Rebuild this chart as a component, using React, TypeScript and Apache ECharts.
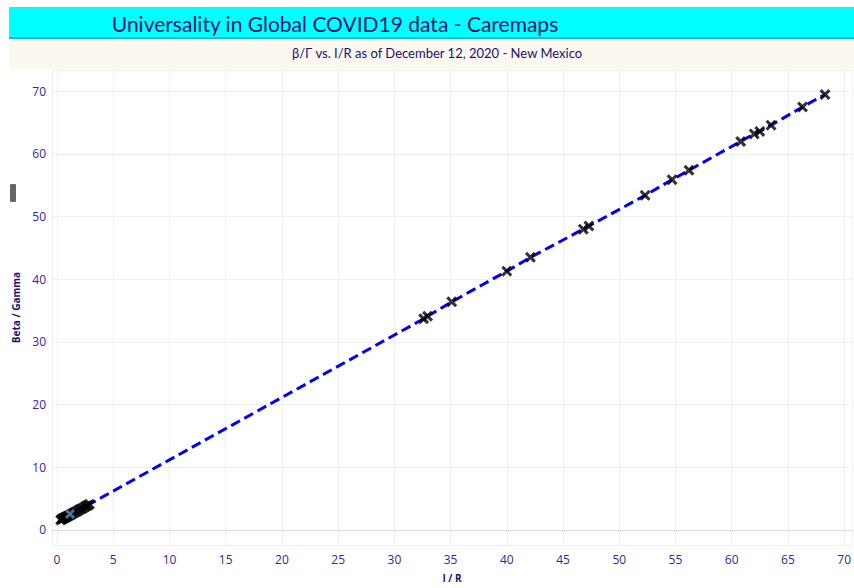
import React, { useEffect, useRef } from "react";
import * as echarts from "echarts";

// I/R values
const irValues = [
  0.32, 0.4, 0.48, 0.55, 0.63, 0.72, 0.8, 0.9, 1.0, 1.1, 1.22, 1.35, 1.5, 1.63,
  1.78, 1.92, 2.05, 2.2, 2.35, 2.5, 2.62, 2.75, 2.88,
  32.6, 32.95, 35.1, 40.0, 42.1, 46.8, 47.3, 52.3, 54.7, 56.2, 60.8, 62.0, 62.5,
  63.5, 66.3, 68.3,
];
// Beta/Gamma values
const bgValues = [
  1.6, 1.7, 1.75, 1.85, 1.9, 2.0, 2.05, 2.15, 2.25, 2.35, 2.45, 2.6, 2.75, 2.85,
  3.0, 3.15, 3.3, 3.4, 3.55, 3.7, 3.85, 3.95, 4.1,
  33.7, 34.1, 36.4, 41.3, 43.5, 48.0, 48.5, 53.4, 55.9, 57.4, 62.0, 63.2, 63.6,
  64.6, 67.5, 69.5,
];
// highlighted (latest) point
const highlightIR = [1.15];
const highlightBG = [2.55];

const titleText = "Universality in Global COVID19 data - Caremaps";
const subtitleText = "β/Γ vs. I/R as of December 12, 2020 - New Mexico";
const xAxisName = "I / R";
const yAxisName = "Beta / Gamma";

const xSymbol =
  "path://M-3,-5 L0,-2 L3,-5 L5,-3 L2,0 L5,3 L3,5 L0,2 L-3,5 L-5,3 L-2,0 L-5,-3 Z";

export default function App() {
  const ref = useRef<HTMLDivElement>(null);
  useEffect(() => {
    if (!ref.current) return;
    const chart = echarts.init(ref.current, undefined, { renderer: "svg", width: 854, height: 588 });
    const pts = irValues.map((x, i) => [x, bgValues[i]]);
    const sorted = pts.slice().sort((a, b) => a[0] - b[0]);
    const hl = highlightIR.map((x, i) => [x, highlightBG[i]]);
    const tickColor = "#3226a0";
    chart.setOption({
      animation: false,
      backgroundColor: "#ffffff",
      graphic: [
        { type: "rect", shape: { x: 9, y: 7, width: 845, height: 31 }, style: { fill: "#00ffff" } },
        { type: "rect", shape: { x: 9, y: 37, width: 845, height: 2 }, style: { fill: "#22b8c0" } },
        { type: "rect", shape: { x: 9, y: 40, width: 845, height: 29 }, style: { fill: "#fdf8ef" } },
        { type: "rect", shape: { x: 10, y: 184, width: 6, height: 18, r: 1 }, style: { fill: "#666666" } },
        {
          type: "text",
          x: 335,
          y: 23,
          style: {
            text: titleText,
            fill: "#18126e",
            font: "21px Lato",
            textAlign: "center",
            textVerticalAlign: "middle",
          },
        },
        {
          type: "text",
          x: 437,
          y: 53,
          style: {
            text: subtitleText,
            fill: "#18126e",
            font: "13px Lato",
            textAlign: "center",
            textVerticalAlign: "middle",
          },
        },
      ],
      grid: { left: 52, top: 70, width: 802, height: 475, containLabel: false },
      xAxis: {
        type: "value",
        min: -0.45,
        max: 70.7,
        splitNumber: 14,
        name: xAxisName,
        nameLocation: "middle",
        nameGap: 28,
        nameTextStyle: { color: "#1b1470", fontWeight: "bold", fontSize: 10, fontFamily: "Open Sans" },
        axisLine: { show: true, lineStyle: { color: "#eeeeee" } },
        axisTick: { show: false },
        axisLabel: {
          color: tickColor,
          fontSize: 12,
          fontFamily: "Open Sans",
          margin: 8,
          showMinLabel: false,
          showMaxLabel: false,
        },
        splitLine: { show: true, lineStyle: { color: "#efefef", width: 1 } },
      },
      yAxis: {
        type: "value",
        min: -2.4,
        max: 73.4,
        splitNumber: 7,
        name: yAxisName,
        nameLocation: "middle",
        nameGap: 26,
        nameRotate: 90,
        nameTextStyle: { color: "#1b1470", fontWeight: "bold", fontSize: 10, fontFamily: "Open Sans" },
        axisLine: { show: false },
        axisTick: { show: false },
        axisLabel: {
          color: tickColor,
          fontSize: 12,
          fontFamily: "Open Sans",
          margin: 6,
          showMinLabel: false,
          showMaxLabel: false,
        },
        splitLine: { show: true, lineStyle: { color: "#efefef", width: 1 } },
      },
      series: [
        {
          type: "line",
          data: sorted,
          showSymbol: false,
          symbol: "none",
          lineStyle: { color: "#0000ff", width: 3, type: [10, 5] },
          z: 2,
          markLine: {
            silent: true,
            symbol: "none",
            label: { show: false },
            lineStyle: { color: "#cccccc", type: "dotted", width: 1 },
            data: [{ yAxis: 0 }],
          },
        },
        {
          type: "scatter",
          data: pts,
          symbol: xSymbol,
          symbolSize: 11,
          itemStyle: { color: "#000000" },
          z: 3,
        },
        {
          type: "scatter",
          data: hl,
          symbol: xSymbol,
          symbolSize: 10,
          itemStyle: { color: "#5b8fc0" },
          z: 4,
        },
      ],
    });
    return () => chart.dispose();
  }, []);
  return <div ref={ref} style={{ width: 854, height: 588, position: "absolute", left: 0, top: 0 }} />;
}
